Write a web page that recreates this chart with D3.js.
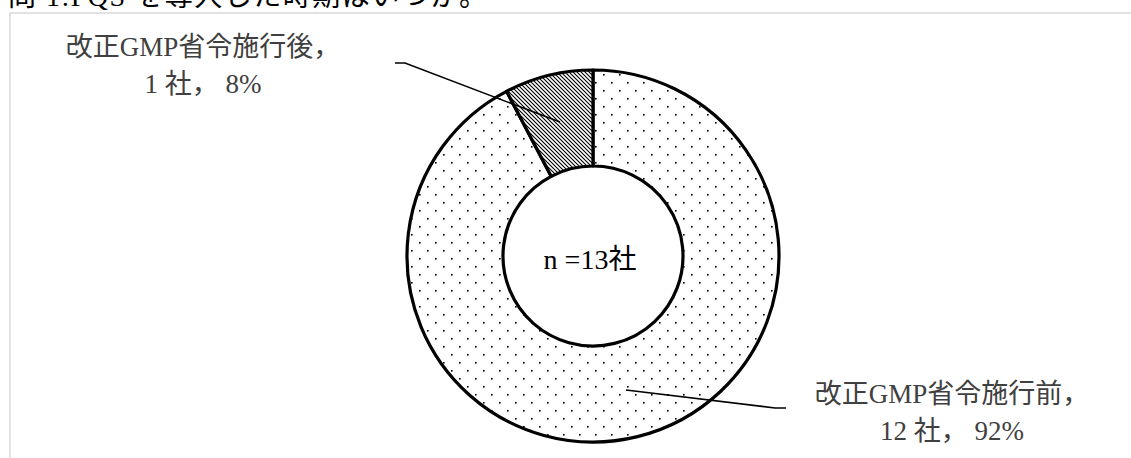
<!DOCTYPE html>
<html>
<head>
<meta charset="utf-8">
<script src="https://cdn.jsdelivr.net/npm/d3@7"></script>
<style>
  body { margin: 0; background: #fff; }
  svg { display: block; }
  text { font-family: "Liberation Serif", "Noto Sans CJK JP", serif; }
</style>
</head>
<body>
<svg id="chart"></svg>
<script>
// data
var categories = ["改正GMP省令施行前", "改正GMP省令施行後"];
var counts = [12, 1];
var percents = ["92%", "8%"];
var unit = "社";
var total = 13;
var title = "問 1:PQS を導入した時期はいつか。";

var width = 1131, height = 458;
var cx = 593, cy = 256;
var rOuter = 186, rInner = 90;

var svg = d3.select("#chart")
    .attr("width", width)
    .attr("height", height);

// patterns
var defs = svg.append("defs");
var dots = defs.append("pattern")
    .attr("id", "dots")
    .attr("patternUnits", "userSpaceOnUse")
    .attr("width", 16).attr("height", 16);
dots.append("rect").attr("width", 16).attr("height", 16).attr("fill", "#fff");
dots.append("rect").attr("x", 2).attr("y", 2).attr("width", 1.6).attr("height", 1.6).attr("fill", "#000");
dots.append("rect").attr("x", 10).attr("y", 10).attr("width", 1.6).attr("height", 1.6).attr("fill", "#000");

var hatch = defs.append("pattern")
    .attr("id", "hatch")
    .attr("patternUnits", "userSpaceOnUse")
    .attr("width", 4).attr("height", 4);
hatch.append("rect").attr("width", 4).attr("height", 4).attr("fill", "#fff");
hatch.append("path").attr("d", "M-1,-1 L5,5 M-1,3 L1,5 M3,-1 L5,1")
    .attr("stroke", "#000").attr("stroke-width", 1.1);

// title (cut off at top, as in the source)
svg.append("text")
    .attr("x", 8).attr("y", 6)
    .attr("font-size", 28)
    .attr("letter-spacing", 1.5)
    .attr("fill", "#000")
    .text(title);

// frame
svg.append("rect")
    .attr("x", 10).attr("y", 13)
    .attr("width", 1200).attr("height", 500)
    .attr("fill", "none")
    .attr("stroke", "#d9d9d9")
    .attr("stroke-width", 1.5);

var pie = d3.pie().sort(null).value(function(d) { return d; });
var arc = d3.arc().innerRadius(rInner).outerRadius(rOuter);
var arcs = pie(counts);
var fills = ["url(#dots)", "url(#hatch)"];

var g = svg.append("g").attr("transform", "translate(" + cx + "," + cy + ")");

g.selectAll("path.slice")
    .data(arcs)
    .enter()
    .append("path")
    .attr("class", "slice")
    .attr("d", arc)
    .attr("fill", function(d, i) { return fills[i]; })
    .attr("stroke", "#000")
    .attr("stroke-width", 3.2)
    .attr("stroke-linejoin", "round");

// center label
g.append("text")
    .attr("x", -3).attr("y", 13)
    .attr("text-anchor", "middle")
    .attr("font-size", 28)
    .attr("fill", "#000")
    .text("n =" + total + unit);

// leader lines + labels
var labelPos = [
    {x: 952, y: 393, ax: 775, ay: 408, bx: 786},
    {x: 203, y: 46, ax: 405, ay: 63, bx: 395}
];

arcs.forEach(function(d, i) {
    var c = arc.centroid(d);
    var p = labelPos[i];
    svg.append("polyline")
        .attr("points", [[cx + c[0], cy + c[1]], [p.ax, p.ay], [p.bx, p.ay]].map(function(q) { return q.join(","); }).join(" "))
        .attr("fill", "none")
        .attr("stroke", "#000")
        .attr("stroke-width", 1.6);

    var t = svg.append("text")
        .attr("text-anchor", "middle")
        .attr("font-size", 27)
        .attr("fill", "#404040");
    t.append("tspan").attr("x", p.x).attr("y", p.y + 10).text(categories[i] + "，");
    t.append("tspan").attr("x", p.x).attr("y", p.y + 47).attr("xml:space", "preserve")
        .style("white-space", "pre")
        .text(counts[i] + " " + unit + "， " + percents[i]);
});
</script>
</body>
</html>
